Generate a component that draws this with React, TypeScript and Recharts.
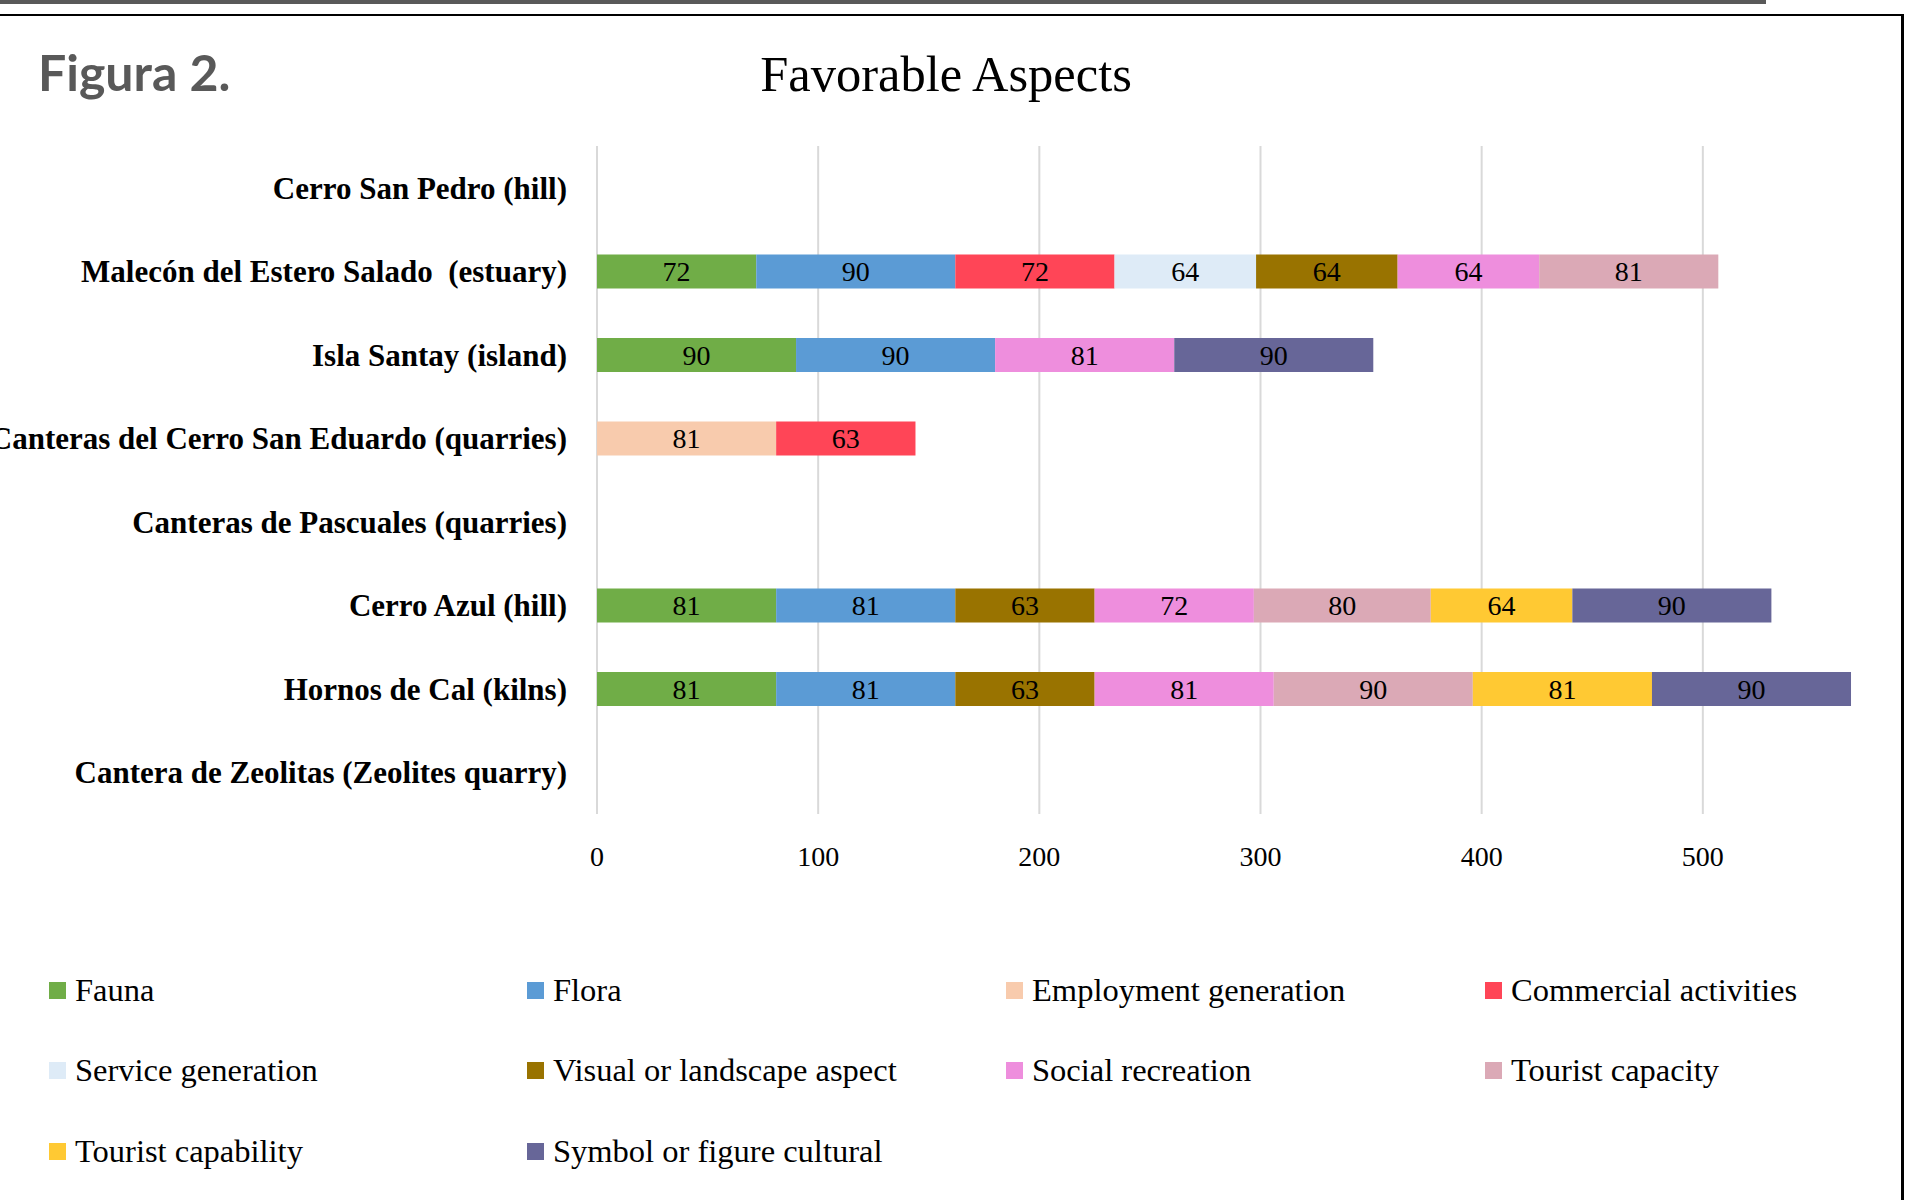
import { BarChart, Bar, XAxis, YAxis, CartesianGrid, LabelList } from "recharts";

const categories = [
  "Cerro San Pedro (hill)",
  "Malecón del Estero Salado\u00A0 (estuary)",
  "Isla Santay (island)",
  "Canteras del Cerro San Eduardo (quarries)",
  "Canteras de Pascuales (quarries)",
  "Cerro Azul (hill)",
  "Hornos de Cal (kilns)",
  "Cantera de Zeolitas (Zeolites quarry)",
];

const fauna = [null, 72, 90, null, null, 81, 81, null];
const flora = [null, 90, 90, null, null, 81, 81, null];
const employment = [null, null, null, 81, null, null, null, null];
const commercial = [null, 72, null, 63, null, null, null, null];
const service = [null, 64, null, null, null, null, null, null];
const visual = [null, 64, null, null, null, 63, 63, null];
const social = [null, 64, 81, null, null, 72, 81, null];
const touristCapacity = [null, 81, null, null, null, 80, 90, null];
const touristCapability = [null, null, null, null, null, 64, 81, null];
const symbol = [null, null, 90, null, null, 90, 90, null];

const xTicks = [0, 100, 200, 300, 400, 500];

const series = [
  { key: "fauna", name: "Fauna", color: "#70AD47", values: fauna },
  { key: "flora", name: "Flora", color: "#5B9BD5", values: flora },
  { key: "employment", name: "Employment generation", color: "#F8CBAD", values: employment },
  { key: "commercial", name: "Commercial activities", color: "#FF4557", values: commercial },
  { key: "service", name: "Service generation", color: "#DEEBF7", values: service },
  { key: "visual", name: "Visual or landscape aspect", color: "#997300", values: visual },
  { key: "social", name: "Social recreation", color: "#EE8EDD", values: social },
  { key: "touristCapacity", name: "Tourist capacity", color: "#DBA9B6", values: touristCapacity },
  { key: "touristCapability", name: "Tourist capability", color: "#FFC933", values: touristCapability },
  { key: "symbol", name: "Symbol or figure cultural", color: "#676698", values: symbol },
];

const data = categories.map((name, i) => {
  const row: Record<string, string | number | null> = { name };
  series.forEach((s) => {
    row[s.key] = s.values[i];
  });
  return row;
});

const serif = "'Liberation Serif', 'Times New Roman', serif";

const legendCols = [49, 527, 1006, 1485];
const legendRows = [990, 1070, 1151];

export default function App() {
  return (
    <div
      style={{
        position: "absolute",
        left: 0,
        top: 0,
        width: 1907,
        height: 1200,
        overflow: "hidden",
        background: "#fff",
        fontFamily: serif,
      }}
    >
      {/* page decorations */}
      <div style={{ position: "absolute", left: 0, top: 0, width: 1766, height: 4, background: "#595959" }} />
      <div style={{ position: "absolute", left: 0, top: 14, width: 1907, height: 2, background: "#000" }} />

      <div
        style={{
          position: "absolute",
          left: 38,
          top: 42,
          fontFamily: "Lato, 'Open Sans', sans-serif",
          fontWeight: 700,
          fontSize: 50,
          color: "#595959",
          lineHeight: "60px",
        }}
      >
        Figura 2.
      </div>
      <div
        style={{
          position: "absolute",
          left: 0,
          width: 1892,
          top: 44,
          textAlign: "center",
          fontSize: 50.5,
          lineHeight: "60px",
          color: "#000",
        }}
      >
        Favorable Aspects
      </div>

      <div style={{ position: "absolute", left: 0, top: 0 }}>
        {/* plot runs past the page edge, so the right end of the scale is cut off */}
        <BarChart
          width={1960}
          height={1200}
          data={data}
          layout="vertical"
          margin={{ top: 146, right: 36, bottom: 326, left: 0 }}
          barSize={34}
        >
          <CartesianGrid horizontal={false} stroke="#D9D9D9" strokeWidth={2} />
          <XAxis
            type="number"
            domain={[0, 600]}
            ticks={xTicks}
            axisLine={false}
            tickLine={false}
            tickSize={0}
            tickMargin={32}
            height={60}
            tick={{ fill: "#000", fontSize: 28, fontFamily: serif }}
          />
          <YAxis
            type="category"
            dataKey="name"
            width={597}
            axisLine={false}
            tickLine={false}
            tickSize={0}
            tickMargin={30}
            interval={0}
            tick={{ fill: "#000", fontSize: 31, fontWeight: 700, fontFamily: serif }}
          />
          {series.map((s) => (
            <Bar
              key={s.key}
              dataKey={s.key}
              name={s.name}
              stackId="a"
              fill={s.color}
              isAnimationActive={false}
            >
              <LabelList
                dataKey={s.key}
                position="center"
                fill="#000"
                fontSize={28}
                fontFamily={serif}
                formatter={(v: any) => (v == null ? "" : v)}
              />
            </Bar>
          ))}
        </BarChart>
      </div>

      <div style={{ position: "absolute", left: 1901, top: 14, width: 3, height: 1186, background: "#000" }} />
      <div style={{ position: "absolute", left: 1904, top: 0, width: 3, height: 1200, background: "#fff" }} />

      {/* legend */}
      {series.map((s, i) => {
        const col = legendCols[i % 4];
        const row = legendRows[Math.floor(i / 4)];
        return (
          <div
            key={s.key}
            style={{
              position: "absolute",
              left: col,
              top: row - 20,
              height: 40,
              display: "flex",
              alignItems: "center",
              fontSize: 32.5,
              color: "#000",
              whiteSpace: "nowrap",
            }}
          >
            <span
              style={{
                display: "inline-block",
                width: 17,
                height: 17,
                background: s.color,
                marginRight: 9,
              }}
            />
            {s.name}
          </div>
        );
      })}
    </div>
  );
}
